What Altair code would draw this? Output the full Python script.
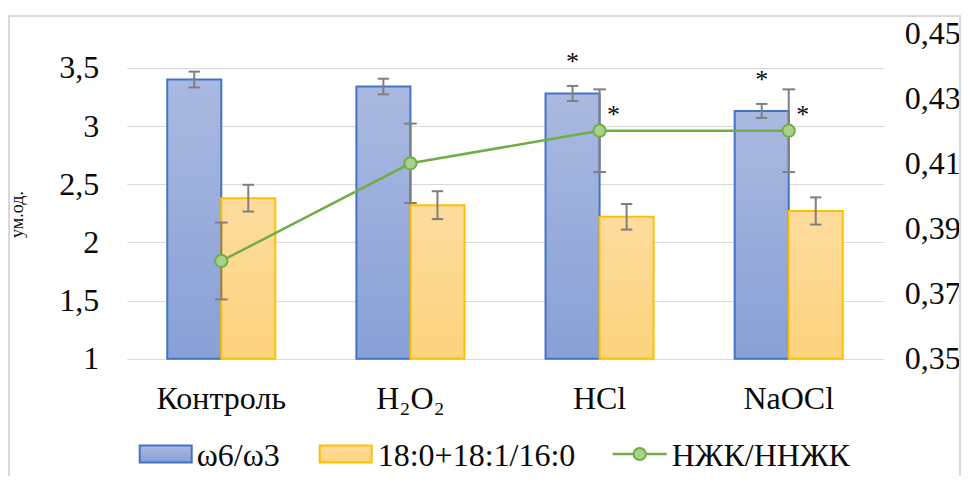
import altair as alt
import pandas as pd

# ---------------- data ----------------
categories = ["Контроль", "H₂O₂", "HCl", "NaOCl"]
series_bar = ["ω6/ω3", "18:0+18:1/16:0"]
series_line = "НЖК/ННЖК"

omega_vals = [3.40, 3.34, 3.28, 3.13]
omega_err = [0.068, 0.067, 0.065, 0.06]
fa_vals = [2.38, 2.32, 2.22, 2.27]
fa_err = [0.115, 0.12, 0.11, 0.117]
ratio_vals = [0.38, 0.41, 0.42, 0.42]
ratio_err = [0.0118, 0.0122, 0.0127, 0.0127]
bar_sig = ["", "", "*", "*"]
line_sig = ["", "", "*", "*"]

left_ticks = [1, 1.5, 2, 2.5, 3, 3.5]
right_ticks = [0.35, 0.37, 0.39, 0.41, 0.43, 0.45]
left_domain = [1, 3.8]
right_domain = [0.35, 0.45]

# ---------------- tables ----------------
rows = []
for c, v, e, s in zip(categories, omega_vals, omega_err, bar_sig):
    rows.append(dict(category=c, series=series_bar[0], value=v, lo=v - e, hi=v + e, sig=s))
for c, v, e in zip(categories, fa_vals, fa_err):
    rows.append(dict(category=c, series=series_bar[1], value=v, lo=v - e, hi=v + e, sig=""))
bars_df = pd.DataFrame(rows)

line_df = pd.DataFrame(dict(
    category=categories,
    value=ratio_vals,
    lo=[v - e for v, e in zip(ratio_vals, ratio_err)],
    hi=[v + e for v, e in zip(ratio_vals, ratio_err)],
    sig=line_sig,
))

# ---------------- styles ----------------
FONT = "Liberation Serif"
FS = 32
TXT = "#0a0a0a"
GRID = "#d9d9d9"
ERR = "#7f7f7f"
BLUE_STROKE = "#4472c4"
ORANGE_STROKE = "#ffc000"
GREEN = "#70ad47"
GREEN_FILL = "#a9d18e"

blue_grad = alt.LinearGradient(
    gradient="linear",
    stops=[alt.GradientStop(color="#aab9e0", offset=0), alt.GradientStop(color="#88a0d7", offset=1)],
    x1=0, x2=0, y1=0, y2=1,
)
orange_grad = alt.LinearGradient(
    gradient="linear",
    stops=[alt.GradientStop(color="#fedc9e", offset=0), alt.GradientStop(color="#fdd37d", offset=1)],
    x1=0, x2=0, y1=0, y2=1,
)

W, H = 756.6, 325.7

x_enc = alt.X(
    "category:N", sort=categories,
    scale=alt.Scale(domain=categories, paddingInner=0, paddingOuter=0),
    axis=alt.Axis(
        title=None, labelAngle=0, labelFont=FONT, labelFontSize=FS, labelColor=TXT,
        labelBaseline="alphabetic", labelPadding=50, ticks=False, tickSize=0,
        domain=False, grid=False,
    ),
)
xoff_enc = alt.XOffset(
    "series:N", sort=series_bar,
    scale=alt.Scale(domain=series_bar, paddingInner=0, paddingOuter=0.75),
)

left_axis = alt.Axis(
    values=left_ticks,
    labelExpr="replace(format(datum.value, '.1~f'), '.', ',')",
    grid=True, gridColor=GRID, gridWidth=1, domain=False, ticks=False, tickSize=0,
    labelFont=FONT, labelFontSize=FS, labelColor=TXT, labelPadding=28,
    title="ум.од.", titleFont=FONT, titleFontSize=18, titleFontWeight="normal",
    titleColor=TXT, titleAngle=270, titleX=-109, titleY=181,
    titleAlign="center", titleBaseline="middle",
)
left_scale = alt.Scale(domain=left_domain, zero=False, nice=False)

right_axis = alt.Axis(
    orient="right", values=right_ticks,
    labelExpr="replace(format(datum.value, '.2f'), '.', ',')",
    grid=False, domain=False, ticks=False, tickSize=0,
    labelFont=FONT, labelFontSize=FS, labelColor=TXT, labelPadding=21,
    title=None,
)
right_scale = alt.Scale(domain=right_domain, zero=False, nice=False)

base_bars = alt.Chart(bars_df)

blue_bars = base_bars.transform_filter(alt.datum.series == series_bar[0]).mark_bar(
    color=blue_grad, stroke=BLUE_STROKE, strokeWidth=2
).encode(
    x=x_enc, xOffset=xoff_enc,
    y=alt.Y("value:Q", scale=left_scale, axis=left_axis),
    y2=alt.datum(1),
)
orange_bars = base_bars.transform_filter(alt.datum.series == series_bar[1]).mark_bar(
    color=orange_grad, stroke=ORANGE_STROKE, strokeWidth=2
).encode(
    x=x_enc, xOffset=xoff_enc,
    y=alt.Y("value:Q", scale=left_scale, axis=left_axis),
    y2=alt.datum(1),
)
bar_err = base_bars.mark_rule(color=ERR, strokeWidth=2).encode(
    x=x_enc, xOffset=xoff_enc,
    y=alt.Y("lo:Q", scale=left_scale, axis=left_axis),
    y2="hi:Q",
)
cap_shape = "M-1,0L1,0"
bar_cap_lo = base_bars.mark_point(shape=cap_shape, size=130, stroke=ERR, strokeWidth=2, filled=False, opacity=1).encode(
    x=x_enc, xOffset=xoff_enc, y=alt.Y("lo:Q", scale=left_scale, axis=left_axis),
)
bar_cap_hi = base_bars.mark_point(shape=cap_shape, size=130, stroke=ERR, strokeWidth=2, filled=False, opacity=1).encode(
    x=x_enc, xOffset=xoff_enc, y=alt.Y("hi:Q", scale=left_scale, axis=left_axis),
)
bar_star = base_bars.mark_text(font=FONT, fontSize=26, color=TXT, dy=-24, baseline="middle").encode(
    x=x_enc, xOffset=xoff_enc, y=alt.Y("hi:Q", scale=left_scale, axis=left_axis), text="sig:N",
)

left_group = alt.layer(blue_bars, orange_bars, bar_err, bar_cap_lo, bar_cap_hi, bar_star)

base_line = alt.Chart(line_df)
line_err = base_line.mark_rule(color=ERR, strokeWidth=2).encode(
    x=x_enc, y=alt.Y("lo:Q", scale=right_scale, axis=right_axis), y2="hi:Q",
)
line_cap_lo = base_line.mark_point(shape=cap_shape, size=160, stroke=ERR, strokeWidth=2, filled=False, opacity=1).encode(
    x=x_enc, y=alt.Y("lo:Q", scale=right_scale, axis=right_axis),
)
line_cap_hi = base_line.mark_point(shape=cap_shape, size=160, stroke=ERR, strokeWidth=2, filled=False, opacity=1).encode(
    x=x_enc, y=alt.Y("hi:Q", scale=right_scale, axis=right_axis),
)
line = base_line.mark_line(color=GREEN, strokeWidth=2.5).encode(
    x=x_enc, y=alt.Y("value:Q", scale=right_scale, axis=right_axis),
)
points = base_line.mark_point(shape="circle", size=150, fill=GREEN_FILL, stroke=GREEN, strokeWidth=2, filled=True, opacity=1).encode(
    x=x_enc, y=alt.Y("value:Q", scale=right_scale, axis=right_axis),
)
line_star = base_line.mark_text(font=FONT, fontSize=26, color=TXT, dx=14, dy=-16, baseline="middle").encode(
    x=x_enc, y=alt.Y("value:Q", scale=right_scale, axis=right_axis), text="sig:N",
)
right_group = alt.layer(line_err, line_cap_lo, line_cap_hi, line, points, line_star)

# ---------------- frame & legend (decorations) ----------------
one = alt.Data(values=[{"k": 0}])
frame = alt.Chart(one).mark_rect(fill="transparent", stroke=GRID, strokeWidth=2).encode(
    x=alt.value(-117.7), x2=alt.value(833.3), y=alt.value(-17), y2=alt.value(520),
)

LY = 421
leg_blue = alt.Chart(one).mark_rect(color=blue_grad, stroke=BLUE_STROKE, strokeWidth=2).encode(
    x=alt.value(13), x2=alt.value(65), y=alt.value(LY - 8.5), y2=alt.value(LY + 8.5),
)
leg_orange = alt.Chart(one).mark_rect(color=orange_grad, stroke=ORANGE_STROKE, strokeWidth=2).encode(
    x=alt.value(193), x2=alt.value(245), y=alt.value(LY - 8.5), y2=alt.value(LY + 8.5),
)
leg_line = alt.Chart(one).mark_rule(color=GREEN, strokeWidth=2.5).encode(
    x=alt.value(486), x2=alt.value(540), y=alt.value(LY),
)
leg_pt = alt.Chart(one).mark_point(shape="circle", size=150, fill=GREEN_FILL, stroke=GREEN, strokeWidth=2, filled=True, opacity=1).encode(
    x=alt.value(513), y=alt.value(LY),
)
leg_texts = []
for label, xpos in [(series_bar[0], 70), (series_bar[1], 251), (series_line, 545)]:
    leg_texts.append(
        alt.Chart(one).mark_text(text=label, font=FONT, fontSize=FS, color=TXT, align="left", baseline="alphabetic").encode(
            x=alt.value(xpos), y=alt.value(433),
        )
    )

chart = alt.layer(
    frame, left_group, right_group, leg_blue, leg_orange, leg_line, leg_pt, *leg_texts
).resolve_scale(y="independent").properties(
    width=W, height=H,
    background="white",
    autosize=alt.AutoSizeParams(type="none"),
    padding={"left": 118.7, "top": 25, "right": 78.7, "bottom": 117.3},
).configure_view(stroke="#ffffff", strokeOpacity=0, strokeWidth=0.01)

chart.save("out.html", embed_options={"renderer": "svg", "actions": False})
